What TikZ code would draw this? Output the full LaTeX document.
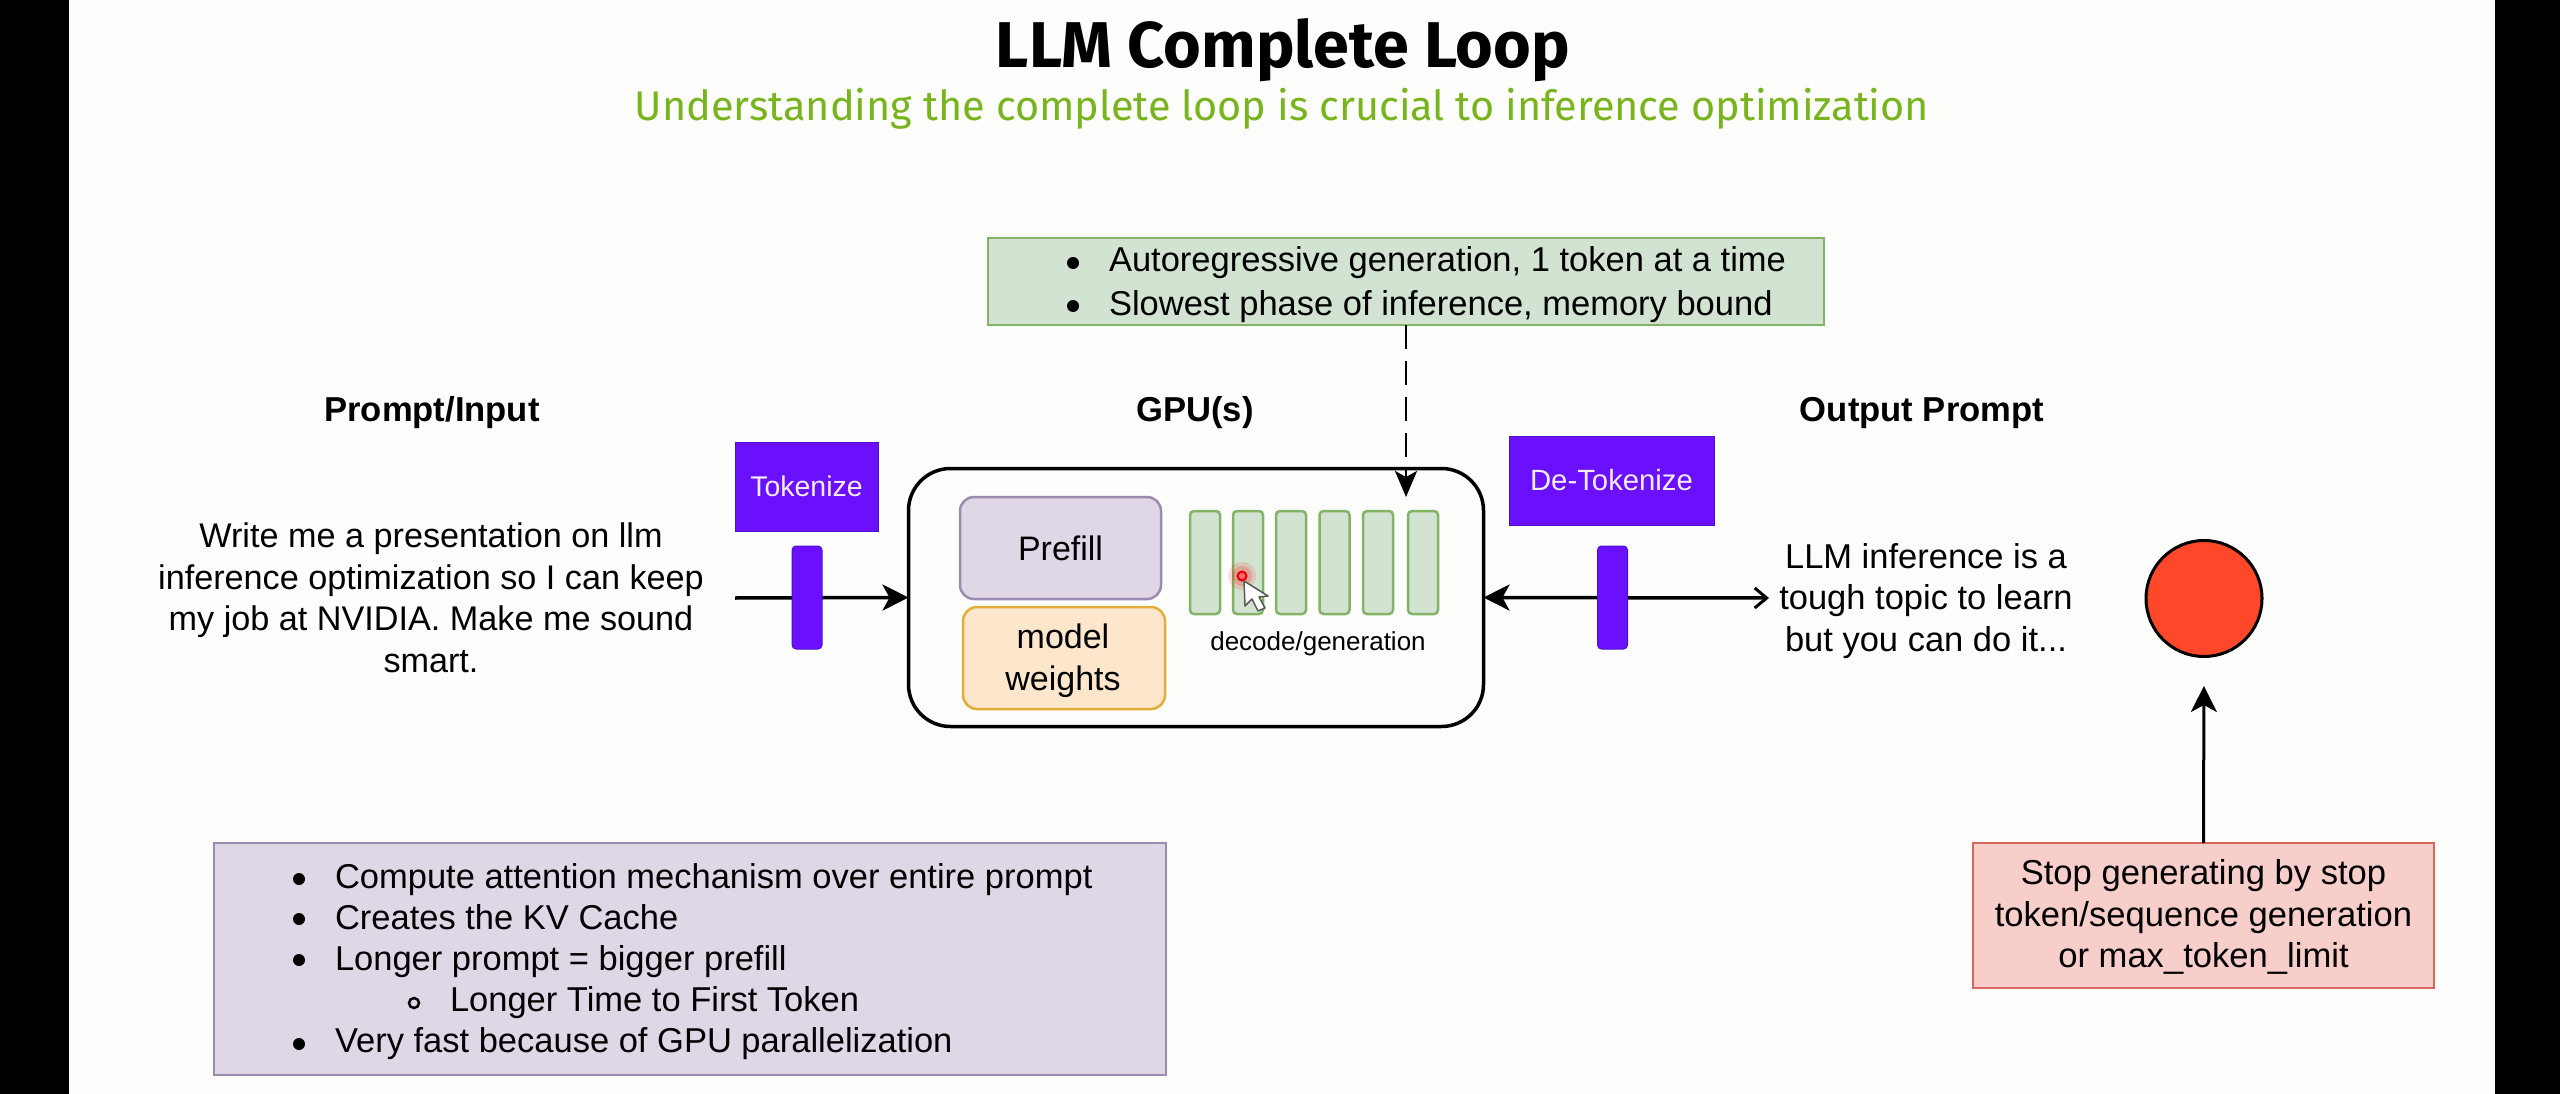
\documentclass[tikz,border=0pt]{standalone}
\usepackage{fontspec}
\setmainfont{Liberation Sans}
\newfontfamily\titlefont{Fira Sans}
\usetikzlibrary{arrows.meta}
\definecolor{paper}{HTML}{FDFDFB}
\definecolor{nvgreen}{HTML}{78B41E}
\definecolor{gfill}{HTML}{D2E3D1}
\definecolor{gline}{HTML}{82B366}
\definecolor{pfill}{HTML}{DFD7E5}
\definecolor{pline}{HTML}{9A8CB0}
\definecolor{ofill}{HTML}{FCE6CC}
\definecolor{oline}{HTML}{E2AE35}
\definecolor{rfill}{HTML}{F8CECB}
\definecolor{rline}{HTML}{D9655F}
\definecolor{indigo}{HTML}{6A10FF}
\definecolor{indline}{HTML}{4A10D0}
\definecolor{stopred}{HTML}{FF472A}
\newcommand{\fs}[2]{\fontsize{#1}{#2}\selectfont}
\tikzset{
  box/.style={draw,inner sep=0pt,outer sep=0pt,line width=#1},
  box/.default=2.5pt,
  lbl/.style={inner sep=0pt,outer sep=0pt,align=center,font=\fs{34.2}{41.5}},
  bul/.style={inner sep=0pt,outer sep=0pt,anchor=base west,font=\fs{34.5}{40.8}},
  dotb/.style={circle,fill=black,inner sep=0pt,minimum size=12pt},
  ringb/.style={circle,draw=black,line width=2.5pt,inner sep=0pt,minimum size=10pt},
  head/.style={inner sep=0pt,outer sep=0pt,font=\fs{34.6}{40}\bfseries},
  arr/.style={line width=3.5pt},
  bigtip/.tip={Stealth[length=26pt,width=26pt,inset=7pt]},
  stick/.style={draw=indline,fill=indigo,line width=1pt,rounded corners=4pt,minimum width=30pt,minimum height=103pt,inner sep=0pt},
  dbar/.style={box=2.5pt,draw=gline,fill=gfill,rounded corners=4pt,minimum width=30pt,minimum height=103pt},
  tokbox/.style={draw=indline,fill=indigo,line width=1pt,inner sep=0pt,text=white!92!indigo}
}
\begin{document}
\begin{tikzpicture}[x=1pt,y=-1pt]
\useasboundingbox (0,0) rectangle (2560,1094);
\fill[paper] (0,0) rectangle (2560,1094);
\fill[black] (0,0) rectangle (69,1094);
\fill[black] (2495,0) rectangle (2560,1094);

\node[anchor=base,inner sep=0pt,font=\fs{64.7}{70}\titlefont\bfseries] (title) at (1283,68) {LLM Complete Loop};
\node[anchor=base,inner sep=0pt,font=\fs{41.4}{50}\titlefont,text=nvgreen] (subtitle) at (1282,121) {Understanding the complete loop is crucial to inference optimization};

% main GPU block
\node[box=3.5pt,rounded corners=42pt,minimum width=575pt,minimum height=258pt,fill=paper] (main) at (1196,597.5) {};
\node[box=2.5pt,draw=pline,fill=pfill,rounded corners=14pt,minimum width=201pt,minimum height=102pt,font=\fs{34}{41}] (prefill) at (1060.5,548) {Prefill};
\node[box=2.5pt,draw=oline,fill=ofill,rounded corners=14pt,minimum width=202pt,minimum height=102pt] (weights) at (1064,658) {};
\node[lbl,font=\fs{34}{42}] (wtext) at (1063,661) {model\\weights};
\foreach \i/\xx in {1/1205,2/1248,3/1291,4/1334.5,5/1378,6/1423}
  \node[dbar] (b\i) at (\xx,562.5) {};
\node[inner sep=0pt,font=\fs{26}{30}] (decode) at (1318,644) {decode/generation};

% connectors
\coordinate (instart) at (735,598);
\coordinate (outend) at (1769,598);
\draw[arr,-{bigtip}] (instart) -- (main.west);
\draw[arr,{bigtip}-{Straight Barb[length=12pt,width=20pt,line width=3pt]}] (main.east) -- (outend);

% tokenizers
\node[tokbox,minimum width=143pt,minimum height=89pt,font=\fs{28.5}{32}] (tok) at (806.5,486.5) {Tokenize};
\node[tokbox,minimum width=205pt,minimum height=89pt,font=\fs{29.3}{32}] (detok) at (1611.5,480.5) {De-Tokenize};
\node[stick] (s1) at (807,597.5) {};
\node[stick] (s2) at (1612.5,597.5) {};

% headings
\node[head] (hin) at (432,413) {Prompt/Input};
\node[head] (hgpu) at (1195,413) {GPU(s)};
\node[head] (hout) at (1922,413) {Output Prompt};

% prompt and answer
\node[lbl] (prompt) at (431,598) {Write me a presentation on llm\\inference optimization so I can keep\\my job at NVIDIA. Make me sound\\smart.};
\node[lbl,font=\fs{34.5}{41.5}] (answer) at (1926,601) {LLM inference is a\\tough topic to learn\\but you can do it...};

% stop
\node[draw=black,fill=stopred,line width=3pt,circle,inner sep=0pt,minimum size=116pt] (stop) at (2204,598.5) {};
\node[box=2.5pt,draw=rline,fill=rfill,minimum width=461pt,minimum height=145pt] (stopbox) at (2203.5,915.5) {};
\node[lbl,font=\fs{34.6}{41.5}] (stoptext) at (2203.5,917) {Stop generating by stop\\token/sequence generation\\or max\_token\_limit};
\draw[arr,line width=3pt,-{bigtip},shorten >=28pt] (stopbox.north) -- (stop.south);

% decode note
\node[box=2.5pt,draw=gline,fill=gfill,minimum width=836pt,minimum height=87pt] (gnote) at (1406,281.5) {};
\node[dotb] (gd1) at (1073,263) {};
\node[dotb] (gd2) at (1073,306) {};
\node[bul] (gt1) at (1109,272) {Autoregressive generation, 1 token at a time};
\node[bul] (gt2) at (1109,315) {Slowest phase of inference, memory bound};
\coordinate (dtip) at (1406,497);
\draw[line width=2.5pt,dash pattern=on 24pt off 12pt,-{Stealth[length=26pt,width=22pt,inset=6pt]}] (gnote.south) -- (dtip);

% prefill note
\node[box=2.5pt,draw=pline,fill=pfill,minimum width=952pt,minimum height=232pt] (pnote) at (690,959) {};
\node[dotb] (pd1) at (299,879) {};
\node[dotb] (pd2) at (299,919) {};
\node[dotb] (pd3) at (299,960) {};
\node[ringb] (pd4) at (414,1003) {};
\node[dotb] (pd5) at (299,1044) {};
\node[bul] (pt1) at (335,888) {Compute attention mechanism over entire prompt};
\node[bul] (pt2) at (335,929) {Creates the KV Cache};
\node[bul] (pt3) at (335,970) {Longer prompt = bigger prefill};
\node[bul] (pt4) at (450,1011) {Longer Time to First Token};
\node[bul] (pt5) at (335,1052) {Very fast because of GPU parallelization};

% pointer on the slide
\fill[red,opacity=.12] (1242,576) circle (14pt);
\fill[red,opacity=.18] (1242,576) circle (10pt);
\draw[red!90!black,fill=red!60!white,line width=2pt] (1242,576) circle (4.5pt);
\draw[gray!70!black,fill=white,line width=1.5pt,line join=round] (1244,581) -- (1245,606) -- (1252,599) -- (1258,611) -- (1265,608) -- (1259,597) -- (1268,596) -- cycle;
\end{tikzpicture}
\end{document}
